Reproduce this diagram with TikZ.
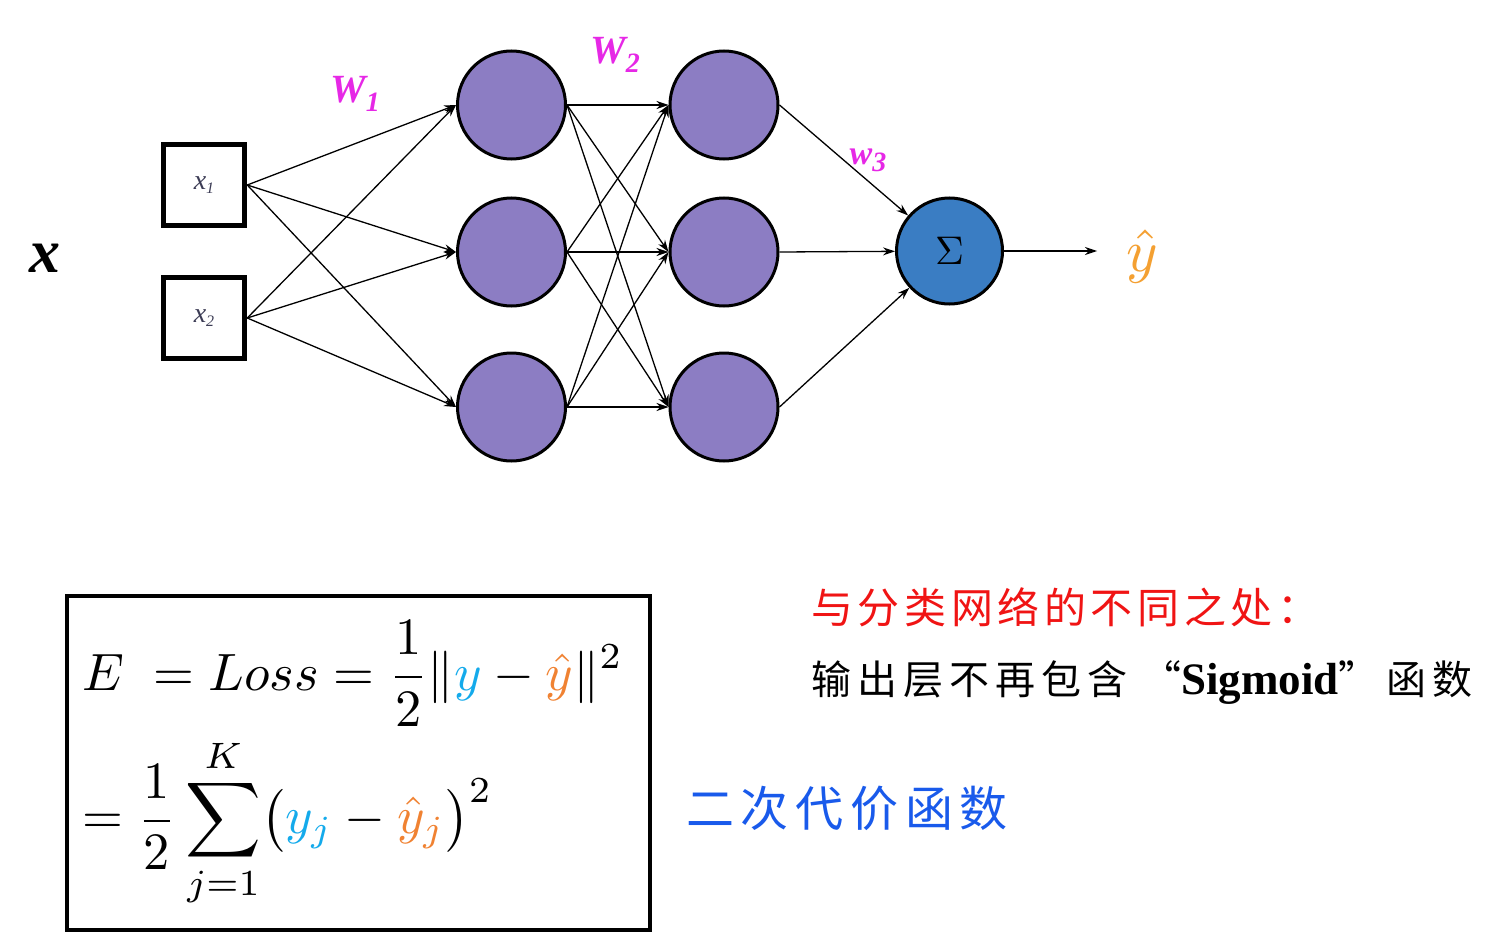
\documentclass[tikz,border=0pt]{standalone}
\usepackage{fontspec}
\usepackage{amsmath}
\usetikzlibrary{arrows.meta}
\newfontfamily\cjk{Noto Sans CJK SC}
\newfontfamily\tnr{Liberation Serif}
\definecolor{hid}{RGB}{140,125,195}
\definecolor{sig}{RGB}{58,125,195}
\definecolor{wmag}{RGB}{230,40,230}
\definecolor{cy}{RGB}{20,170,235}
\definecolor{orn}{RGB}{240,130,50}
\definecolor{yhat}{RGB}{244,160,50}
\definecolor{redt}{RGB}{240,20,20}
\definecolor{bluet}{RGB}{25,90,235}
\definecolor{xgray}{RGB}{60,60,85}
\begin{document}
\begin{tikzpicture}[x=1pt,y=-1pt,
  neuron/.style={circle,draw=black,line width=3pt,fill=hid,minimum size=108pt,inner sep=0pt},
  inbox/.style={draw=black,line width=5.5pt,minimum width=81pt,minimum height=81pt,inner sep=0pt},
  arr/.style={-{Stealth[length=12pt,width=8pt]},line width=1.3pt},
  wlab/.style={text=wmag,inner sep=0pt,font=\tnr\bfseries\itshape\fontsize{40}{40}\selectfont},
  cjkt/.style={anchor=west,inner sep=0pt}]
\useasboundingbox (0,0) rectangle (1493,952);
% input
\node[inner sep=0pt] (xl) at (45,258) {\tnr\bfseries\itshape\fontsize{62}{62}\selectfont x};
\node[inbox] (x1) at (204,185) {\tnr\itshape\fontsize{28}{28}\selectfont\color{xgray}x\raisebox{-0.35ex}{\fontsize{16}{16}\selectfont 1}};
\node[inbox] (x2) at (204,318) {\tnr\itshape\fontsize{28}{28}\selectfont\color{xgray}x\raisebox{-0.35ex}{\fontsize{16}{16}\selectfont 2}};
% hidden layers
\node[neuron] (a1) at (511.5,105) {};
\node[neuron] (a2) at (511.5,252) {};
\node[neuron] (a3) at (511.5,407) {};
\node[neuron] (b1) at (724,105) {};
\node[neuron] (b2) at (724,252) {};
\node[neuron] (b3) at (724,407) {};
\node[neuron,fill=sig,minimum size=106pt] (s) at (949.5,251) {\scalebox{4}{$\Sigma$}};
\coordinate (out) at (1097,251);
\node[inner sep=0pt,text=yhat] (yh) at (1142,256) {\scalebox{6}{$\hat{y}$}};
% edges
\foreach \i in {x1,x2}{\foreach \j in {a1,a2,a3}{\draw[arr] (\i.east) -- (\j.west);}}
\foreach \i in {a1,a2,a3}{\foreach \j in {b1,b2,b3}{\draw[arr] (\i.east) -- (\j.west);}}
\foreach \i in {b1,b2,b3}{\draw[arr] (\i.east) -- (s);}
\draw[arr] (s) -- (out);
% weight labels
\node[wlab] (w1) at (355,94) {W\raisebox{-0.45ex}{\fontsize{28}{28}\selectfont 1}};
\node[wlab] (w2) at (615,55) {W\raisebox{-0.45ex}{\fontsize{28}{28}\selectfont 2}};
\node[wlab] (w3) at (868,160) {\fontsize{34}{34}\selectfont w\raisebox{-0.45ex}{\fontsize{28}{28}\selectfont 3}};
% formula box
\node[draw=black,line width=4pt,minimum width=583pt,minimum height=334pt,anchor=north west,inner sep=0pt] (box) at (65,594) {};
\node[anchor=base west,inner sep=0pt] (f1) at (82,690) {\scalebox{5.25}{$\displaystyle E\;=Loss=\frac{1}{2}\|{\color{cy}y}-{\color{orn}\hat{y}}\|^{2}$}};
\node[anchor=west,inner sep=0pt] (f2) at (82,823) {\scalebox{5.25}{$\displaystyle =\frac{1}{2}\sum_{j=1}^{K}\bigl({\color{cy}y_j}-{\color{orn}\hat{y}_j}\bigr)^{2}$}};
% texts
\node[cjkt] (t1) at (811,607) {\cjk\addfontfeature{LetterSpace=11}\fontsize{42}{42}\selectfont\color{redt}与分类网络的不同之处：};
\node[cjkt] (t2) at (811,683) {\cjk\addfontfeature{LetterSpace=15}\fontsize{40}{40}\selectfont 输出层不再包含\hspace{14pt}“{\tnr\bfseries\fontsize{45}{45}\selectfont Sigmoid}”\hspace{8pt}函数};
\node[cjkt] (t3) at (686,808) {\cjk\addfontfeature{LetterSpace=14}\fontsize{48}{48}\selectfont\color{bluet}二次代价函数};
\end{tikzpicture}
\end{document}
